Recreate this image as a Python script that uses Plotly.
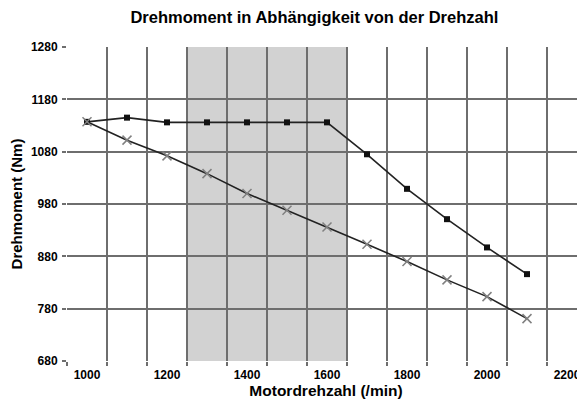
import plotly.graph_objects as go

rpm = [1000, 1100, 1200, 1300, 1400, 1500, 1600, 1700, 1800, 1900, 2000, 2100]
torque_a = [1137, 1145, 1136, 1136, 1136, 1136, 1136, 1075, 1009, 951, 897, 846]
torque_b = [1137, 1102, 1072, 1038, 1000, 968, 936, 903, 870, 835, 803, 761]

x_ticks = [1000, 1200, 1400, 1600, 1800, 2000, 2200]
x_grid = [950, 1050, 1150, 1250, 1350, 1450, 1550, 1650, 1750, 1850, 1950, 2050, 2150]
y_ticks = [680, 780, 880, 980, 1080, 1180, 1280]
band = [1250, 1650]

FONT = "Liberation Sans"
GRID = "#6e6e6e"

fig = go.Figure()
fig.add_trace(go.Scatter(
    x=rpm, y=torque_a, mode="lines+markers",
    line=dict(color="#222222", width=1.6),
    marker=dict(symbol="square", size=6, color="#111111"),
    showlegend=False,
))
fig.add_trace(go.Scatter(
    x=rpm, y=torque_b, mode="lines+markers",
    line=dict(color="#222222", width=1.6),
    marker=dict(symbol="x-thin", size=9, line=dict(color="#808080", width=1.5)),
    showlegend=False,
))
fig.add_shape(type="rect", xref="x", yref="paper", x0=band[0], x1=band[1], y0=0, y1=1,
              fillcolor="#d2d2d2", line=dict(width=0), layer="below")

# page body adds an 8px offset; the figure is sized/margined to compensate
fig.update_layout(
    width=577, height=394,
    margin=dict(l=59, r=0, t=39, b=41),
    paper_bgcolor="white", plot_bgcolor="white",
    title=dict(text="<b>Drehmoment in Abhängigkeit von der Drehzahl</b>",
               x=0.531, xanchor="center", y=0.977, yanchor="middle",
               font=dict(family=FONT, size=16.5, color="black")),
    xaxis=dict(
        range=[950, 2245], tickmode="array", tickvals=x_ticks,
        ticktext=[str(v) for v in x_ticks], automargin=False,
        showgrid=False, zeroline=False, showline=False, ticks="",
        ticklabelstandoff=5,
        tickfont=dict(family=FONT, size=12, color="black", weight="bold"),
        minor=dict(tickmode="array", tickvals=x_grid, showgrid=True, gridcolor=GRID,
                   gridwidth=2, ticks="outside", ticklen=4, tickcolor=GRID, tickwidth=2),
        title=dict(text="<b>Motordrehzahl (/min)</b>", standoff=4,
                   font=dict(family=FONT, size=15.5, color="black")),
    ),
    yaxis=dict(
        range=[680, 1280], tickmode="array", tickvals=y_ticks, automargin=False,
        showgrid=True, gridcolor=GRID, gridwidth=2, zeroline=False, showline=False,
        ticks="outside", ticklen=4, tickcolor=GRID, tickwidth=2,
        ticklabelstandoff=2,
        tickfont=dict(family=FONT, size=12, color="black", weight="bold"),
        title=dict(text="<b>Drehmoment (Nm)</b>", standoff=4,
                   font=dict(family=FONT, size=15, color="black")),
    ),
)

fig.write_html("out.html")
